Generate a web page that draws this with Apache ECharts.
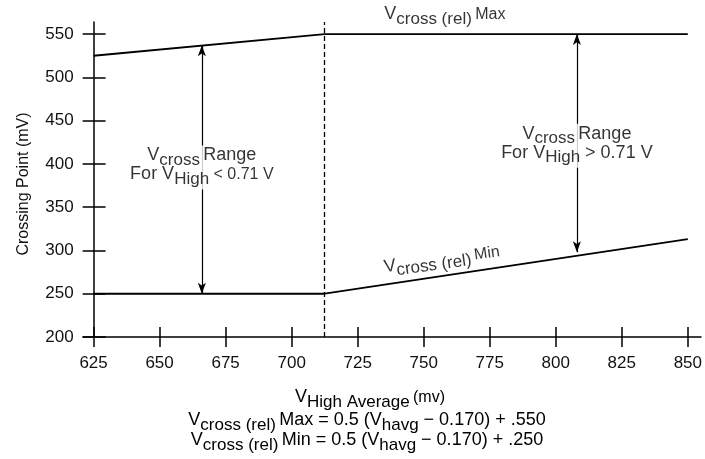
<!DOCTYPE html>
<html><head><meta charset="utf-8">
<script src="https://cdn.jsdelivr.net/npm/echarts@6/dist/echarts.min.js"></script>
<style>html,body{margin:0;padding:0;background:#fff}#c{width:705px;height:459px}</style>
</head><body><div id="c"></div>
<script>
const xTicks = [625, 650, 675, 700, 725, 750, 775, 800, 825, 850];
const yTicks = [200, 250, 300, 350, 400, 450, 500, 550];
const vHighBreak = 712.5;
const maxLineX = [625, 712.5, 850];
const maxLineY = [525, 550, 550];
const minLineX = [625, 712.5, 850];
const minLineY = [250, 250, 313];
const rangeLowX = 666, rangeLowY = [537, 250];
const rangeHighX = 808, rangeHighY = [550, 298];

const FONT = "'Liberation Sans', Arial, sans-serif";
const INK = '#000';
const rich = {
  n: {fontSize: 18, fontFamily: FONT, color: INK, lineHeight: 19, padding: [0, 0, 5, 0]},
  s: {fontSize: 17, fontFamily: FONT, color: INK, lineHeight: 19, padding: [5, 0, 0, 0]},
  m: {fontSize: 16, fontFamily: FONT, color: INK, lineHeight: 19, padding: [0, 0, 4, 0]}
};

const chart = echarts.init(document.getElementById('c'), null, {renderer: 'canvas'});
const axisCommon = {type: 'value', axisLine: {show: true, lineStyle: {color: INK, width: 1.5}}, splitLine: {show: false}};
const zipPts = (xs, ys) => xs.map((x, i) => [x, ys[i]]);

chart.setOption({
  animation: false,
  grid: {left: 83, right: 2, top: 22, bottom: 122},
  xAxis: [
    Object.assign({}, axisCommon, {min: 621, max: 855, position: 'bottom',
      axisTick: {show: true, length: 10, customValues: xTicks, lineStyle: {color: INK, width: 1.5}},
      axisLabel: {customValues: xTicks, margin: 18, fontSize: 17, fontFamily: FONT, color: '#111'}}),
    Object.assign({}, axisCommon, {min: 621, max: 855, position: 'bottom', axisLine: {show: false},
      axisTick: {show: true, inside: true, length: 10, customValues: xTicks, lineStyle: {color: INK, width: 1.5}},
      axisLabel: {show: false}})
  ],
  yAxis: [
    Object.assign({}, axisCommon, {min: 200, max: 564, position: 'left', offset: -10.6,
      axisTick: {show: true, length: 11, customValues: yTicks, lineStyle: {color: INK, width: 1.5}},
      axisLabel: {customValues: yTicks, margin: 20, fontSize: 17, fontFamily: FONT, color: '#111'}}),
    Object.assign({}, axisCommon, {min: 200, max: 564, position: 'left', offset: -10.6, axisLine: {show: false},
      axisTick: {show: true, inside: true, length: 12, customValues: yTicks, lineStyle: {color: INK, width: 1.5}},
      axisLabel: {show: false}})
  ],
  series: [
    {type: 'line', name: 'Max', data: zipPts(maxLineX, maxLineY), symbol: 'none',
      lineStyle: {color: INK, width: 1.8}, silent: true,
      markLine: {silent: true, symbol: ['none', 'none'], label: {show: false},
        lineStyle: {color: INK, width: 1.3, type: [5, 3]},
        data: [{xAxis: vHighBreak}]}},
    {type: 'line', name: 'Min', data: zipPts(minLineX, minLineY), symbol: 'none',
      lineStyle: {color: INK, width: 1.8}, silent: true,
      markLine: {silent: true, symbol: ['arrow', 'arrow'], symbolSize: [6, 11], label: {show: false},
        lineStyle: {color: INK, width: 1.2, type: 'solid'},
        data: [
          [{coord: [rangeLowX, rangeLowY[0]]}, {coord: [rangeLowX, rangeLowY[1]]}],
          [{coord: [rangeHighX, rangeHighY[0]]}, {coord: [rangeHighX, rangeHighY[1]]}]
        ]}},
    {type: 'scatter', name: 'notes', symbolSize: 0, clip: false, silent: true, z: 10,
      label: {show: true, position: 'inside', rich: rich},
      data: [
        {value: [rangeLowX, 396], label: {backgroundColor: '#fff', padding: [3, 2],
          formatter: '{n|V}{s|cross} {n|Range}\n{n|For V}{s|High}{m| < 0.71 V}'}},
        {value: [rangeHighX, 421], label: {backgroundColor: '#fff', padding: [3, 2],
          formatter: '{n|V}{s|cross} {n|Range}\n{n|For V}{s|High}{n| > 0.71 V}'}},
        {value: [758, 570], label: {formatter: '{n|V}{s|cross (rel)} {m|Max}'}},
        {value: [757, 287], label: {rotate: 8, formatter: '{n|V}{s|cross (rel)} {m|Min}'}}
      ]}
  ],
  graphic: [
    {type: 'text', x: 24, y: 184, rotation: Math.PI / 2,
      style: {text: 'Crossing Point (mV)', font: '16px ' + FONT, fill: '#111', align: 'center', verticalAlign: 'middle'}},
    {type: 'text', x: 370, y: 400,
      style: {text: '{n|V}{s|High Average} {m|(mv)}', rich: rich, align: 'center', verticalAlign: 'middle'}},
    {type: 'text', x: 367, y: 423,
      style: {text: '{n|V}{s|cross (rel)} {n|Max = 0.5 (V}{s|havg}{n| \u2212 0.170) + .550}', rich: rich, align: 'center', verticalAlign: 'middle'}},
    {type: 'text', x: 367, y: 443,
      style: {text: '{n|V}{s|cross (rel)} {n|Min = 0.5 (V}{s|havg}{n| \u2212 0.170) + .250}', rich: rich, align: 'center', verticalAlign: 'middle'}}
  ]
});
</script></body></html>
